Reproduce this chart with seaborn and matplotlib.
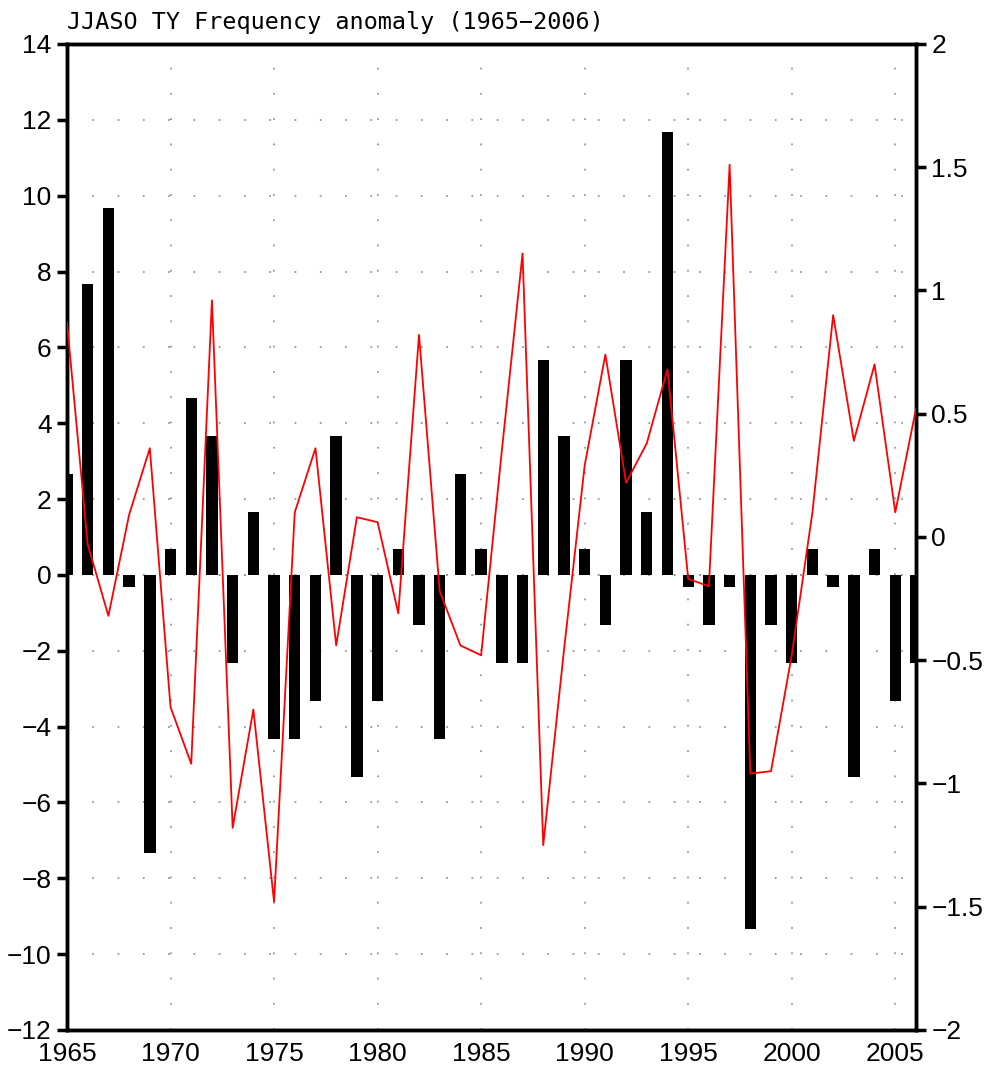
import numpy as np
import pandas as pd
import matplotlib
matplotlib.use('Agg')
import matplotlib.pyplot as plt
import seaborn as sns

# years 1965-2006
years = list(range(1965, 2007))

# TY frequency anomaly (bars, left axis)
freq_anom = [2.67, 7.67, 9.67, -0.33, -7.33, 0.67, 4.67, 3.67, -2.33, 1.67,
             -4.33, -4.33, -3.33, 3.67, -5.33, -3.33, 0.67, -1.33, -4.33, 2.67,
             0.67, -2.33, -2.33, 5.67, 3.67, 0.67, -1.33, 5.67, 1.67, 11.67,
             -0.33, -1.33, -0.33, -9.33, -1.33, -2.33, 0.67, -0.33, -5.33, 0.67,
             -3.33, -2.33]

# red line index (right axis)
line_vals = [0.87, -0.03, -0.32, 0.09, 0.36, -0.69, -0.92, 0.96, -1.18, -0.70,
             -1.48, 0.10, 0.36, -0.44, 0.08, 0.06, -0.31, 0.82, -0.22, -0.44,
             -0.48, 0.35, 1.15, -1.25, -0.46, 0.29, 0.74, 0.22, 0.38, 0.68,
             -0.17, -0.20, 1.51, -0.96, -0.95, -0.48, 0.10, 0.90, 0.39, 0.70,
             0.10, 0.52]

left_ticks = list(range(-12, 15, 2))
right_ticks = [-2, -1.5, -1, -0.5, 0, 0.5, 1, 1.5, 2]
right_labels = ['\u22122', '\u22121.5', '\u22121', '\u22120.5', '0', '0.5', '1', '1.5', '2']
x_ticks = [1965, 1970, 1975, 1980, 1985, 1990, 1995, 2000, 2005]

df = pd.DataFrame({'year': years, 'freq': freq_anom, 'idx': line_vals})

sns.set_style('white')
plt.rcParams['font.family'] = ['Liberation Sans', 'DejaVu Sans']

fig = plt.figure(figsize=(9.88, 10.7), dpi=100)
ax = fig.add_axes([0.0678, 0.0374, 0.8593, 0.9215])

sns.barplot(data=df, x='year', y='freq', native_scale=True, width=0.55,
            color='black', edgecolor='black', linewidth=0, saturation=1, ax=ax, zorder=3)
ax.set_xlim(1965, 2006)
ax.set_ylim(-12, 14)
ax.set_yticks(left_ticks)
ax.set_yticklabels([str(t).replace('-', '\u2212') for t in left_ticks])
ax.set_xticks(x_ticks)
ax.set_xticklabels([str(t) for t in x_ticks])
ax.set_xlabel('')
ax.set_ylabel('')

# dotted grid
ax.grid(True, color='#999999', linestyle=(0, (1, 13)), linewidth=1.3, zorder=0)
ax.set_axisbelow(True)
ax.axhline(0, color='#999999', linestyle=(0, (1, 13)), linewidth=1.3, zorder=1)

ax2 = ax.twinx()
sns.lineplot(data=df, x='year', y='idx', color='red', linewidth=1.3, ax=ax2, zorder=4)
ax2.set_ylim(-2, 2)
ax2.set_yticks(right_ticks)
ax2.set_yticklabels(right_labels)
ax2.set_xlim(1965, 2006)
ax2.set_ylabel('')
ax2.set_xlabel('')

for a in (ax, ax2):
    for s in a.spines.values():
        s.set_linewidth(2.5)
        s.set_color('black')
    a.tick_params(direction='out', length=7, width=2.5, labelsize=19, colors='black', pad=4)
ax.tick_params(axis='x', labelsize=19, pad=2)
ax.tick_params(axis='y', right=False)
ax2.tick_params(axis='y', left=False)

ax.text(0.0, 1.01, 'JJASO TY Frequency anomaly (1965\u22122006)', transform=ax.transAxes,
        fontsize=16.8, ha='left', va='bottom', color='black', family=['DejaVu Sans Mono'])

fig.savefig('out.png', dpi=100)
